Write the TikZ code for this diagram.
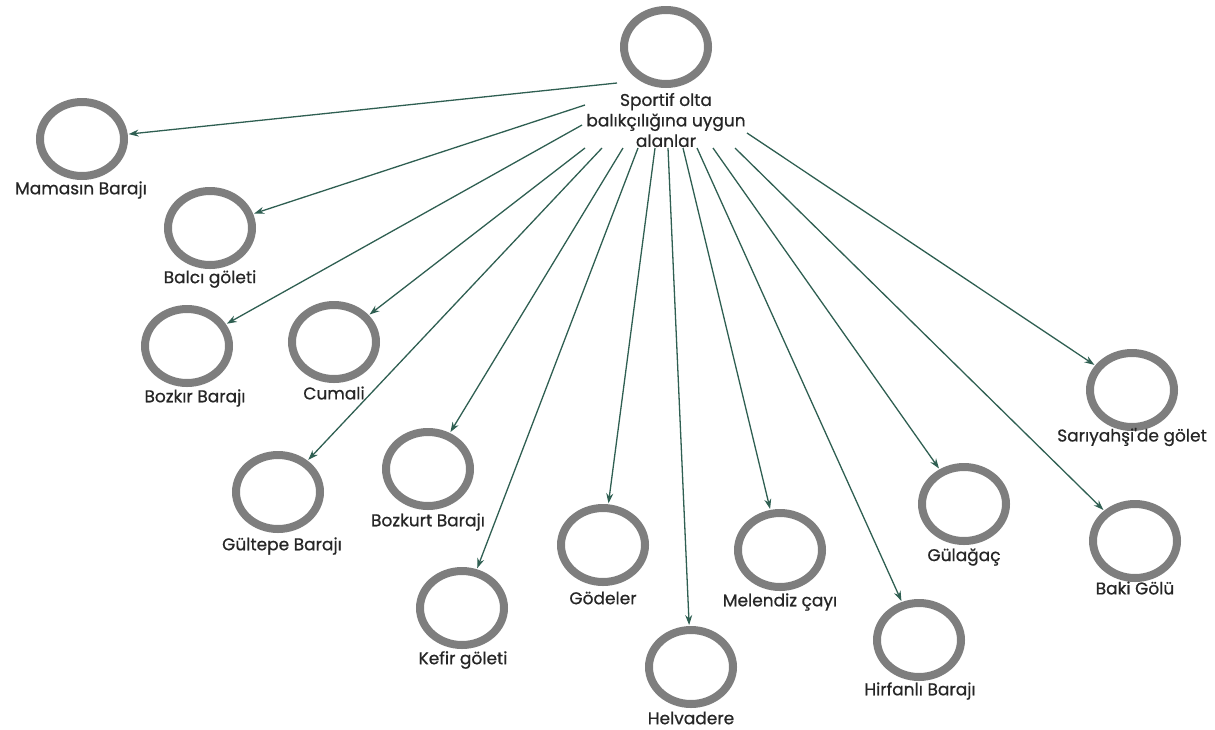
\documentclass[tikz,border=0pt]{standalone}
\usepackage{fontspec}
\setmainfont{Poppins}
\newfontfamily\lblfont{Poppins}[FakeBold=0.7]
\usetikzlibrary{shapes.geometric,arrows.meta}
\definecolor{ringgray}{HTML}{7E7E7E}
\definecolor{arrowgreen}{HTML}{2F5F52}
\definecolor{labelgray}{HTML}{262626}
\tikzset{
  ring/.style={ellipse, draw=ringgray, line width=8pt, minimum width=84pt, minimum height=74pt, inner sep=0pt},
  lbl/.style={font=\lblfont\fontsize{17}{20.5}\selectfont, text=labelgray, inner sep=0pt, align=center},
  conn/.style={draw=arrowgreen, line width=1.3pt, -{Stealth[length=10pt,width=7pt]}, shorten >=1pt}
}
\begin{document}
\begin{tikzpicture}[x=1pt,y=-1pt]
\useasboundingbox (0,0) rectangle (1215,729);
% root
\node[ring] (root) at (666,47) {};
\node[lbl] (rootL) at (666,120) {Sportif olta\\balıkçılığına uygun\\alanlar};
% children
\node[ring] (mam) at (82,139) {};
\node[lbl] (mamL) at (81,190) {Mamasın Barajı};
\node[ring] (bal) at (210,228) {};
\node[lbl] (balL) at (210,279) {Balcı göleti};
\node[ring] (boz) at (187,346) {};
\node[lbl] (bozL) at (195,398) {Bozkır Barajı};
\node[ring] (cum) at (334,342) {};
\node[lbl] (cumL) at (334,393) {Cumali};
\node[ring] (gul) at (278,492) {};
\node[lbl] (gulL) at (282,546) {Gültepe Barajı};
\node[ring] (bzk) at (428,469) {};
\node[lbl] (bzkL) at (428,522) {Bozkurt Barajı};
\node[ring] (kef) at (462,608) {};
\node[lbl] (kefL) at (463,660) {Kefir göleti};
\node[ring] (god) at (603,545) {};
\node[lbl] (godL) at (603,598) {Gödeler};
\node[ring] (hel) at (691,667) {};
\node[lbl] (helL) at (691,718) {Helvadere};
\node[ring] (mel) at (780,550) {};
\node[lbl] (melL) at (780,602) {Melendiz çayı};
\node[ring] (hir) at (919,640) {};
\node[lbl] (hirL) at (920,691) {Hirfanlı Barajı};
\node[ring] (gla) at (964,504) {};
\node[lbl] (glaL) at (964,557) {Gülağaç};
\node[ring] (sar) at (1132,390) {};
\node[lbl] (sarL) at (1132,437) {Sarıyahşi'de gölet};
\node[ring] (bak) at (1135,541) {};
\node[lbl] (bakL) at (1135,588) {Baki Gölü};
% start points
\coordinate (s1) at (617,83);
\coordinate (s2) at (585,105);
\coordinate (s3) at (582,125);
\coordinate (s4) at (585,148);
\coordinate (s5) at (602,148);
\coordinate (s6) at (623,148);
\coordinate (s7) at (638,148);
\coordinate (s8) at (655,148);
\coordinate (s9) at (668,148);
\coordinate (s10) at (683,148);
\coordinate (s11) at (697,148);
\coordinate (s12) at (713,148);
\coordinate (s13) at (735,148);
\coordinate (s14) at (747,133);
% connectors
\draw[conn] (s1) -- (mam);
\draw[conn] (s2) -- (bal);
\draw[conn] (s3) -- (boz);
\draw[conn] (s4) -- (cum);
\draw[conn] (s5) -- (gul);
\draw[conn] (s6) -- (bzk);
\draw[conn] (s7) -- (kef);
\draw[conn] (s8) -- (god);
\draw[conn] (s9) -- (hel);
\draw[conn] (s10) -- (mel);
\draw[conn] (s11) -- (hir);
\draw[conn] (s12) -- (gla);
\draw[conn] (s13) -- (bak);
\draw[conn] (s14) -- (sar);
\end{tikzpicture}
\end{document}
